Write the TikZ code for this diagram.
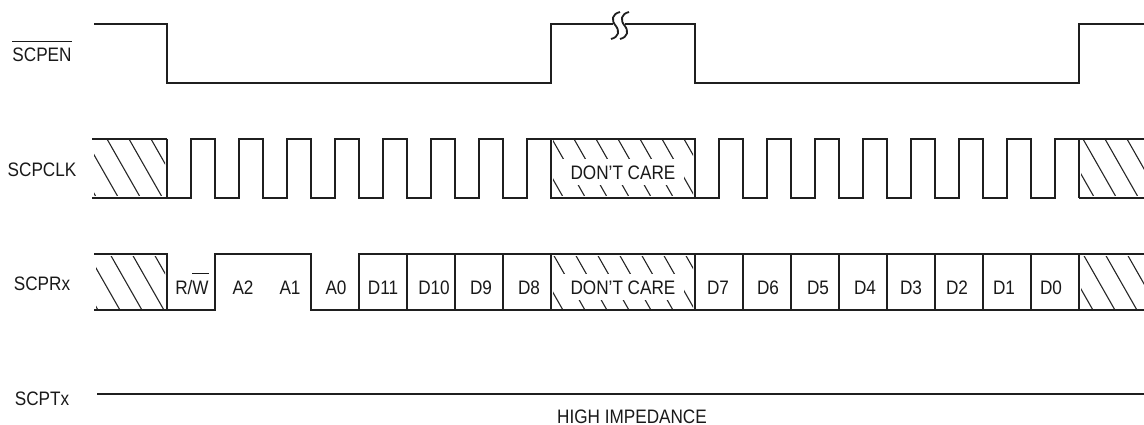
\documentclass[tikz,border=0pt]{standalone}
\usepackage{fontspec}
\setmainfont{Liberation Sans}[FakeStretch=0.88]
\newcommand\ovbar[1]{\sbox0{#1}\rlap{\rule[20pt]{\wd0}{1.2pt}}\box0}
\newcommand\hatchbox[5]{%
  \begin{scope}
    \clip (#1+2,#2+2) rectangle (#3-2,#4-2);
    \foreach \s in {0,...,10}{\draw[hatchline] ({#5+22*\s},#2) -- ({#5+22*\s+0.57*(#4-#2)},#4);}
  \end{scope}}
\begin{document}
\begin{tikzpicture}[x=1pt,y=-1pt,
  sig/.style={line width=2pt, line join=miter, draw=black!88},
  vbar/.style={line width=2.8pt, line cap=rect, draw=black!88},
  hatchline/.style={line width=1.1pt, draw=black!85},
  lbl/.style={font=\fontsize{19.5}{22}\selectfont, text=black!90, inner sep=0pt, anchor=base},
  dctext/.style={lbl, fill=white, inner xsep=9pt, inner ysep=6pt}]
\useasboundingbox (0,0) rectangle (1144,425);

% signal names
\node[lbl] (lEN)  at (42,62)  {\ovbar{SCPEN}};
\node[lbl] (lCLK) at (42,177) {SCPCLK};
\node[lbl] (lRX)  at (42,290) {SCPRx};
\node[lbl] (lTX)  at (42,405) {SCPTx};

% SCPEN
\draw[sig] (94,24) -- (167,24) -- (167,83) -- (551,83) -- (551,24) -- (613,24);
\draw[sig] (625,24) -- (695,24) -- (695,83) -- (1079,83) -- (1079,24) -- (1144,24);
\draw[line width=1.8pt, black!88] (620,12) .. controls (612,14) and (611,20) .. (615.5,25.5) .. controls (620,31) and (619,37) .. (611,39);
\draw[line width=1.8pt, black!88] (629,12) .. controls (621,14) and (620,20) .. (624.5,25.5) .. controls (629,31) and (628,37) .. (620,39);

% SCPCLK
\hatchbox{92}{139}{167}{198}{63}
\draw[sig] (92,139) -- (167,139);
\draw[sig] (92,198) -- (167,198)
  \foreach \k in {0,...,7}{ -- ({191+48*\k},198) -- ({191+48*\k},139) -- ({215+48*\k},139) -- ({215+48*\k},198)};
\draw[sig] (167,139) -- (167,198);
\hatchbox{551}{139}{695}{198}{508}
\node[dctext] (dc1) at (623,179) {DON'T CARE};
\draw[sig] (551,139) rectangle (695,198);
\draw[sig] (695,198)
  \foreach \k in {0,...,7}{ -- ({719+48*\k},198) -- ({719+48*\k},139) -- ({743+48*\k},139) -- ({743+48*\k},198)};
\hatchbox{1079}{139}{1150}{198}{1039}
\draw[sig] (1079,139) -- (1144,139);
\draw[sig] (1079,198) -- (1144,198);

% SCPRx
\hatchbox{94}{254}{167}{310}{66}
\hatchbox{551}{254}{695}{310}{509}
\hatchbox{1079}{254}{1150}{310}{1039}
\node[dctext] (dc2) at (623,294) {DON'T CARE};
\draw[sig] (94,254) -- (167,254);
\draw[sig] (94,310) -- (215,310) -- (215,254) -- (311,254) -- (311,310) -- (359,310) -- (359,254) -- (1144,254);
\draw[sig] (359,310) -- (1144,310);
\foreach \x in {167,215,311,359,407,455,503,551,695,743,791,839,887,935,983,1031,1079}
  \draw[vbar] (\x,254) -- (\x,310);
\node[lbl] (rw)  at (192,294) {R/\ovbar{W}};
\node[lbl] (a2)  at (243,294) {A2};
\node[lbl] (a1)  at (290,294) {A1};
\node[lbl] (a0)  at (336,294) {A0};
\node[lbl] (d11) at (383,294) {D11};
\node[lbl] (d10) at (434,294) {D10};
\node[lbl] (d9)  at (481,294) {D9};
\node[lbl] (d8)  at (529,294) {D8};
\node[lbl] (d7)  at (718,294) {D7};
\node[lbl] (d6)  at (768,294) {D6};
\node[lbl] (d5)  at (818,294) {D5};
\node[lbl] (d4)  at (865,294) {D4};
\node[lbl] (d3)  at (911,294) {D3};
\node[lbl] (d2)  at (957,294) {D2};
\node[lbl] (d1)  at (1004,294) {D1};
\node[lbl] (d0)  at (1051,294) {D0};

% SCPTx
\coordinate (txs) at (97,394);
\coordinate (txe) at (1144,394);
\draw[sig] (txs) -- (txe);
\node[lbl] (hiz) at (632,423) {HIGH IMPEDANCE};
\end{tikzpicture}
\end{document}
